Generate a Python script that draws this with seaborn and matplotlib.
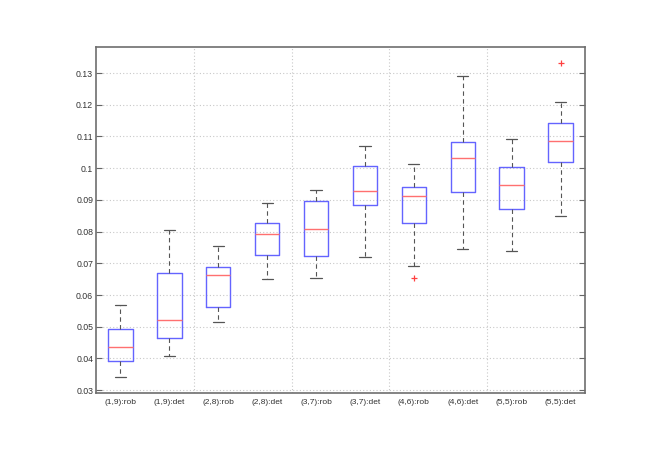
import numpy as np
import pandas as pd
import matplotlib
matplotlib.use("Agg")
import matplotlib.pyplot as plt
from matplotlib.ticker import FuncFormatter
import seaborn as sns

# values (five-number summaries per group)
labels = ["(1,9):rob", "(1,9):det", "(2,8):rob", "(2,8):det", "(3,7):rob",
          "(3,7):det", "(4,6):rob", "(4,6):det", "(5,5):rob", "(5,5):det"]
whisker_lo = [0.0342, 0.0408, 0.0515, 0.0651, 0.0653, 0.0721, 0.0690, 0.0746, 0.0739, 0.0850]
q1 = [0.0391, 0.0465, 0.0562, 0.0725, 0.0723, 0.0883, 0.0827, 0.0925, 0.0872, 0.1020]
med = [0.0437, 0.0522, 0.0662, 0.0793, 0.0809, 0.0929, 0.0913, 0.1032, 0.0946, 0.1085]
q3 = [0.0493, 0.0668, 0.0687, 0.0827, 0.0896, 0.1007, 0.0941, 0.1082, 0.1005, 0.1141]
whisker_hi = [0.0567, 0.0806, 0.0754, 0.0889, 0.0932, 0.1070, 0.1012, 0.1290, 0.1091, 0.1210]
outlier_labels = ["(4,6):rob", "(5,5):det"]
outlier_values = [0.0653, 0.1333]

sns.set_style("white")
plt.rcParams["font.family"] = ["Liberation Sans", "DejaVu Sans"]

fig = plt.figure(figsize=(6.59, 4.66), dpi=100)
ax = fig.add_axes([96 / 659, 1 - 393 / 466, 489 / 659, 346 / 466])

stats = []
for i, lab in enumerate(labels):
    stats.append({"label": lab, "whislo": whisker_lo[i], "q1": q1[i], "med": med[i],
                  "q3": q3[i], "whishi": whisker_hi[i], "fliers": []})

ax.bxp(stats, widths=0.5, capwidths=0.23, showfliers=False,
       boxprops=dict(color="#6464ff", linewidth=1.0),
       medianprops=dict(color="#ff7070", linewidth=1.0),
       whiskerprops=dict(color="#555555", linewidth=0.8, linestyle=(0, (4, 3))),
       capprops=dict(color="#555555", linewidth=0.9))

# outliers as red plus signs
out = pd.DataFrame({"pos": [labels.index(l) + 1 for l in outlier_labels],
                    "value": outlier_values})
sns.scatterplot(data=out, x="pos", y="value", marker="+", color="#ff4040",
                s=16, linewidth=0.9, ax=ax, zorder=5)

ax.set_xlim(0.5, 10.5)
ax.set_ylim(0.0291, 0.1382)
ax.set_xticks(range(1, len(labels) + 1))
ax.set_xticklabels(labels)
ax.set_yticks(np.arange(0.03, 0.1301, 0.01))
ax.yaxis.set_major_formatter(FuncFormatter(lambda v, p: "%g" % round(v, 3)))
ax.set_xlabel("")
ax.set_ylabel("")

# dotted grid like MATLAB
ax.grid(axis="y", color="#c8c8c8", linestyle=(0, (1, 2)), linewidth=0.8)
for xg in [2.5, 4.5, 6.5, 8.5]:
    ax.axvline(xg, color="#c8c8c8", linestyle=(0, (1, 2)), linewidth=0.8, zorder=0)
ax.set_axisbelow(True)

ax.tick_params(axis="y", direction="in", length=4, width=0.8, color="#666666",
               left=True, right=True, labelsize=6.3, pad=2, labelcolor="#333333")
ax.tick_params(axis="x", length=0, labelsize=6, pad=4, labelcolor="#333333")
for s in ax.spines.values():
    s.set_color("#6e6e6e")
    s.set_linewidth(1.2)

fig.savefig("out.png", dpi=100)
